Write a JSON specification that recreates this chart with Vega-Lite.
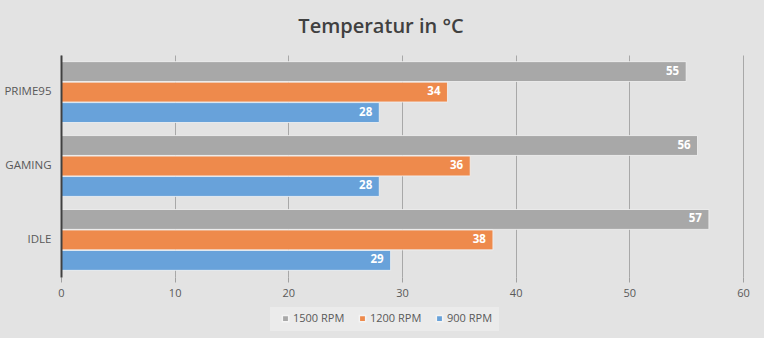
{
  "$schema": "https://vega.github.io/schema/vega-lite/v6.json",
  "width": 682,
  "height": 222,
  "autosize": {"type": "none"},
  "padding": {"left": 61, "top": 55, "right": 21, "bottom": 61},
  "background": "#e3e3e3",
  "title": {
    "text": "Temperatur in °C",
    "fontSize": 20,
    "font": "Open Sans",
    "fontWeight": 600,
    "color": "#404040",
    "offset": 18,
    "dx": -21
  },
  "data": {
    "values": [
      {"cat": "PRIME95", "rpm": "1500 RPM", "v": 55},
      {"cat": "PRIME95", "rpm": "1200 RPM", "v": 34},
      {"cat": "PRIME95", "rpm": "900 RPM", "v": 28},
      {"cat": "GAMING", "rpm": "1500 RPM", "v": 56},
      {"cat": "GAMING", "rpm": "1200 RPM", "v": 36},
      {"cat": "GAMING", "rpm": "900 RPM", "v": 28},
      {"cat": "IDLE", "rpm": "1500 RPM", "v": 57},
      {"cat": "IDLE", "rpm": "1200 RPM", "v": 38},
      {"cat": "IDLE", "rpm": "900 RPM", "v": 29}
    ]
  },
  "encoding": {
    "y": {
      "field": "cat", "type": "nominal", "sort": ["PRIME95", "GAMING", "IDLE"],
      "scale": {"paddingInner": 0.177, "paddingOuter": 0.09},
      "axis": {"title": null, "ticks": false, "labelPadding": 10, "domainColor": "#404040", "domainWidth": 2, "zindex": 1, "labelFontSize": 11.5, "labelColor": "#595959", "labelFont": "Open Sans", "grid": false}
    },
    "yOffset": {"field": "rpm", "type": "nominal", "sort": ["1500 RPM", "1200 RPM", "900 RPM"], "scale": {"paddingInner": 0.03}},
    "x": {
      "field": "v", "type": "quantitative",
      "scale": {"domain": [0, 60], "nice": false},
      "axis": {"title": null, "values": [0, 10, 20, 30, 40, 50, 60], "labelOverlap": false, "labelFlush": false, "domain": false, "ticks": true, "tickSize": 5, "tickColor": "#a0a0a0", "gridColor": "#a8a8a8", "gridWidth": 1, "labelPadding": 5, "labelFontSize": 11, "labelColor": "#595959", "labelFont": "Open Sans"}
    }
  },
  "layer": [
    {
      "mark": {"type": "bar", "stroke": "#f4f4f4", "strokeWidth": 0.8},
      "encoding": {
        "color": {
          "field": "rpm", "type": "nominal",
          "scale": {"domain": ["1500 RPM", "1200 RPM", "900 RPM"], "range": ["#a8a8a8", "#ee8a4c", "#68a2da"]},
          "legend": {
            "title": null, "orient": "none", "legendX": 209, "legendY": 252,
            "direction": "horizontal", "symbolType": "square", "symbolSize": 40,
            "labelFontSize": 11, "labelColor": "#595959", "labelFont": "Open Sans",
            "fillColor": "#ebebeb", "padding": 6, "columnPadding": 8, "labelOffset": 2, "symbolOffset": 4
          }
        }
      }
    },
    {
      "mark": {"type": "text", "align": "right", "dx": -7, "color": "white", "fontWeight": "bold", "fontSize": 11.5, "font": "Open Sans"},
      "encoding": {"text": {"field": "v", "type": "quantitative"}}
    }
  ],
  "config": {"view": {"stroke": null}}
}
